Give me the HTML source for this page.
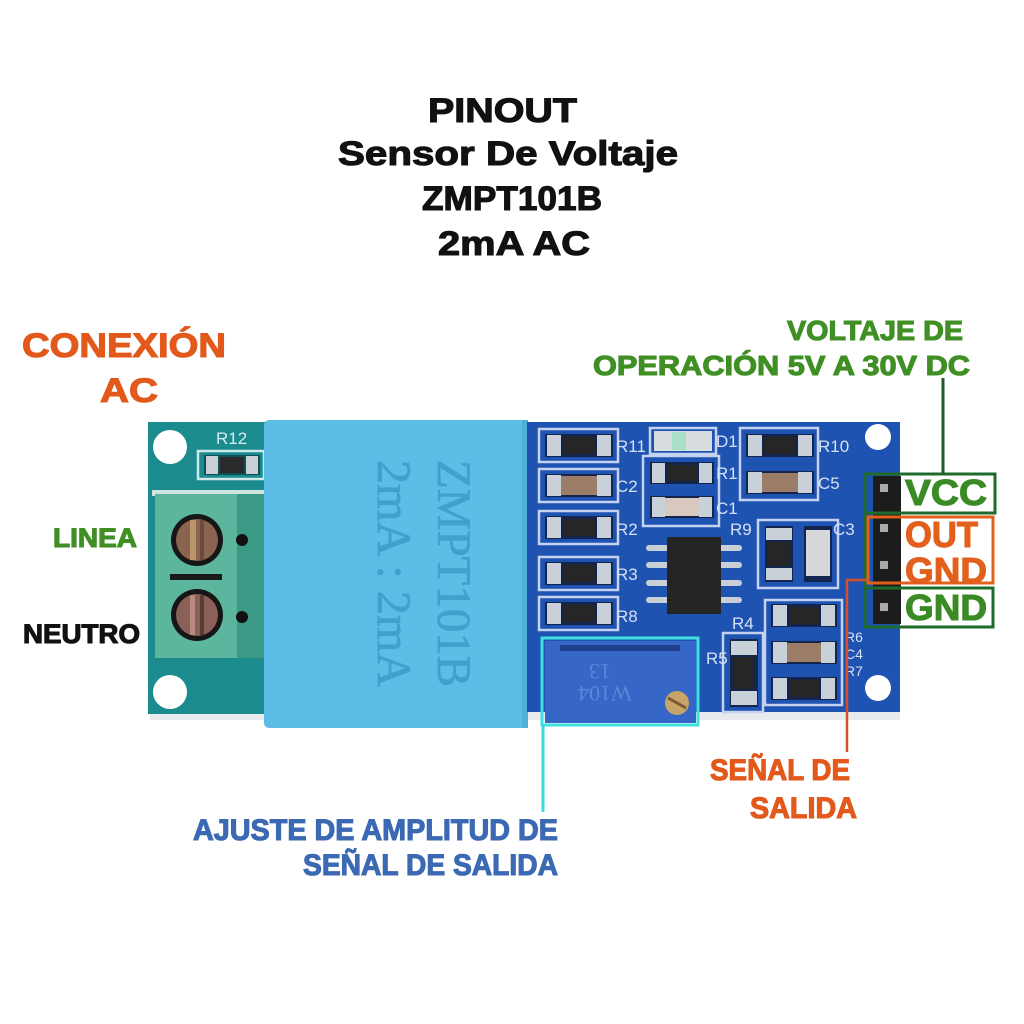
<!DOCTYPE html>
<html><head><meta charset="utf-8"><style>
html,body{margin:0;padding:0;background:#fff;}
svg{display:block;}
.b{font-family:"Liberation Sans",sans-serif;font-weight:bold;stroke-width:1.1px;paint-order:stroke;}
.s{font-family:"Liberation Sans",sans-serif;fill:#d6e0f3;font-size:17px;}
</style></head><body>
<svg width="1024" height="1024" viewBox="0 0 1024 1024" xmlns="http://www.w3.org/2000/svg">
<rect width="1024" height="1024" fill="#fff"/>

<!-- Title -->
<g class="b" fill="#111" stroke="#111" font-size="34">
<text x="428" y="122" textLength="149" lengthAdjust="spacingAndGlyphs">PINOUT</text>
<text x="338" y="165" textLength="340" lengthAdjust="spacingAndGlyphs">Sensor De Voltaje</text>
<text x="422" y="210" textLength="180" lengthAdjust="spacingAndGlyphs">ZMPT101B</text>
<text x="438" y="255" textLength="152" lengthAdjust="spacingAndGlyphs">2mA AC</text>
</g>

<!-- Left labels -->
<g class="b">
<text x="22" y="357" font-size="34" fill="#e2591b" stroke="#e2591b" textLength="204" lengthAdjust="spacingAndGlyphs">CONEXIÓN</text>
<text x="100" y="402" font-size="34" fill="#e2591b" stroke="#e2591b" textLength="58" lengthAdjust="spacingAndGlyphs">AC</text>
<text x="53" y="547" font-size="27" fill="#3f8f25" stroke="#3f8f25" textLength="84" lengthAdjust="spacingAndGlyphs">LINEA</text>
<text x="23" y="643" font-size="27" fill="#111" stroke="#111" textLength="117" lengthAdjust="spacingAndGlyphs">NEUTRO</text>
<text x="787" y="340" font-size="28" fill="#3f8f25" stroke="#3f8f25" textLength="176" lengthAdjust="spacingAndGlyphs">VOLTAJE DE</text>
<text x="593" y="375" font-size="28" fill="#3f8f25" stroke="#3f8f25" textLength="377" lengthAdjust="spacingAndGlyphs">OPERACIÓN 5V A 30V DC</text>
<text x="710" y="780" font-size="30" fill="#e2591b" stroke="#e2591b" textLength="140" lengthAdjust="spacingAndGlyphs">SEÑAL DE</text>
<text x="750" y="818" font-size="30" fill="#e2591b" stroke="#e2591b" textLength="107" lengthAdjust="spacingAndGlyphs">SALIDA</text>
<text x="193" y="840" font-size="30" fill="#3b69b3" stroke="#3b69b3" textLength="365" lengthAdjust="spacingAndGlyphs">AJUSTE DE AMPLITUD DE</text>
<text x="303" y="875" font-size="30" fill="#3b69b3" stroke="#3b69b3" textLength="255" lengthAdjust="spacingAndGlyphs">SEÑAL DE SALIDA</text>
</g>

<!-- shadow -->
<rect x="150" y="712" width="750" height="8" fill="#d8dde2" opacity="0.6"/>

<!-- Left teal PCB -->
<rect x="148" y="422" width="122" height="292" fill="#1b8b8e"/>
<circle cx="170" cy="447" r="17" fill="#fff"/>
<circle cx="170" cy="692" r="17" fill="#fff"/>
<text class="s" x="216" y="444" style="fill:#d8eef0" font-size="18">R12</text>
<rect x="198" y="451" width="66" height="28" fill="none" stroke="#cfe8ea" stroke-width="2.5"/>
<rect x="204" y="455" width="56" height="20" fill="#0e4f58"/>
<rect x="206" y="456" width="12" height="18" fill="#c8d0d4"/>
<rect x="246" y="456" width="12" height="18" fill="#c8d0d4"/>
<rect x="220" y="457" width="24" height="16" fill="#2a2a2a"/>
<!-- terminal block -->
<rect x="152" y="490" width="114" height="6" fill="#cfe6e0"/>
<rect x="155" y="494" width="82" height="164" fill="#5cb69e"/>
<rect x="237" y="494" width="28" height="164" fill="#3a9a86"/>
<circle cx="197" cy="540" r="26" fill="#161616"/>
<circle cx="197" cy="540" r="21" fill="#8a6450"/>
<rect x="190" y="520" width="6" height="40" fill="#b8956a"/>
<rect x="200" y="520" width="4" height="40" fill="#6a4a38"/>
<circle cx="197" cy="615" r="26" fill="#161616"/>
<circle cx="197" cy="615" r="21" fill="#8a6058"/>
<rect x="190" y="595" width="5" height="40" fill="#b88a80"/>
<rect x="200" y="595" width="4" height="40" fill="#5a3c36"/>
<rect x="170" y="574" width="52" height="6" fill="#1a1a1a"/>
<circle cx="242" cy="540" r="6" fill="#111"/>
<circle cx="242" cy="617" r="6" fill="#111"/>

<!-- Transformer -->
<rect x="264" y="420" width="264" height="308" rx="5" fill="#5cbde6"/>
<rect x="522" y="420" width="6" height="308" fill="#4fb0da"/>
<g font-family="'Liberation Serif',serif" fill="#42a0cf" stroke="#42a0cf" stroke-width="0.8">
<text transform="translate(438,460) rotate(90)" font-size="48" textLength="227" lengthAdjust="spacingAndGlyphs">ZMPT101B</text>
<text transform="translate(378,460) rotate(90)" font-size="48" textLength="227" lengthAdjust="spacingAndGlyphs">2mA : 2mA</text>
</g>

<!-- Right blue PCB -->
<rect x="527" y="422" width="373" height="290" fill="#1f53b2"/>
<circle cx="878" cy="437" r="13" fill="#fff"/>
<circle cx="878" cy="688" r="13" fill="#fff"/>

<g fill="none" stroke="#c3d2ee" stroke-width="2.5">
<rect x="539" y="429" width="79" height="33"/>
<rect x="539" y="469" width="79" height="33"/>
<rect x="539" y="511" width="79" height="33"/>
<rect x="539" y="557" width="79" height="33"/>
<rect x="539" y="597" width="79" height="33"/>
<rect x="650" y="428" width="66" height="26"/>
<rect x="643" y="456" width="76" height="70"/>
<rect x="740" y="428" width="78" height="72"/>
<rect x="758" y="520" width="80" height="68"/>
<rect x="765" y="600" width="77" height="105"/>
<rect x="723" y="633" width="40" height="79"/>
</g>

<g>
<rect x="545" y="434" width="68" height="23" fill="#14254d"/><rect x="547" y="435" width="14" height="21" fill="#c9d1d8"/><rect x="597" y="435" width="14" height="21" fill="#c9d1d8"/><rect x="563" y="437" width="32" height="17" fill="#262626"/>
<rect x="545" y="474" width="68" height="23" fill="#14254d"/><rect x="547" y="475" width="14" height="21" fill="#c9d1d8"/><rect x="597" y="475" width="14" height="21" fill="#c9d1d8"/><rect x="561" y="476" width="36" height="19" fill="#9c7e68"/>
<rect x="545" y="516" width="68" height="23" fill="#14254d"/><rect x="547" y="517" width="14" height="21" fill="#c9d1d8"/><rect x="597" y="517" width="14" height="21" fill="#c9d1d8"/><rect x="563" y="519" width="32" height="17" fill="#262626"/>
<rect x="545" y="562" width="68" height="23" fill="#14254d"/><rect x="547" y="563" width="14" height="21" fill="#c9d1d8"/><rect x="597" y="563" width="14" height="21" fill="#c9d1d8"/><rect x="563" y="565" width="32" height="17" fill="#262626"/>
<rect x="545" y="602" width="68" height="23" fill="#14254d"/><rect x="547" y="603" width="14" height="21" fill="#c9d1d8"/><rect x="597" y="603" width="14" height="21" fill="#c9d1d8"/><rect x="563" y="605" width="32" height="17" fill="#262626"/>
<rect x="654" y="431" width="58" height="20" fill="#d8dde0"/><rect x="672" y="432" width="14" height="18" fill="#a8e0c8"/>
<rect x="650" y="462" width="64" height="22" fill="#14254d"/><rect x="652" y="463" width="13" height="20" fill="#c9d1d8"/><rect x="699" y="463" width="13" height="20" fill="#c9d1d8"/><rect x="667" y="465" width="30" height="16" fill="#262626"/>
<rect x="650" y="496" width="64" height="22" fill="#14254d"/><rect x="652" y="497" width="13" height="20" fill="#c9d1d8"/><rect x="699" y="497" width="13" height="20" fill="#c9d1d8"/><rect x="665" y="498" width="34" height="18" fill="#d8c8c0"/>
<rect x="746" y="434" width="68" height="23" fill="#14254d"/><rect x="748" y="435" width="14" height="21" fill="#c9d1d8"/><rect x="798" y="435" width="14" height="21" fill="#c9d1d8"/><rect x="764" y="437" width="32" height="17" fill="#262626"/>
<rect x="746" y="471" width="68" height="23" fill="#14254d"/><rect x="748" y="472" width="14" height="21" fill="#c9d1d8"/><rect x="798" y="472" width="14" height="21" fill="#c9d1d8"/><rect x="762" y="473" width="36" height="19" fill="#9c7e68"/>
<rect x="765" y="526" width="28" height="56" fill="#14254d"/><rect x="766" y="528" width="26" height="12" fill="#c9d1d8"/><rect x="766" y="568" width="26" height="12" fill="#c9d1d8"/><rect x="768" y="542" width="22" height="24" fill="#262626"/>
<rect x="804" y="526" width="28" height="56" fill="#14254d"/><rect x="806" y="530" width="24" height="46" fill="#d6d8da"/>
<g fill="#c9cfd6">
<rect x="646" y="545" width="24" height="6" rx="3"/><rect x="646" y="562" width="24" height="6" rx="3"/><rect x="646" y="580" width="24" height="6" rx="3"/><rect x="646" y="597" width="24" height="6" rx="3"/>
<rect x="718" y="545" width="24" height="6" rx="3"/><rect x="718" y="562" width="24" height="6" rx="3"/><rect x="718" y="580" width="24" height="6" rx="3"/><rect x="718" y="597" width="24" height="6" rx="3"/>
</g>
<rect x="667" y="537" width="54" height="77" fill="#242424"/>
<rect x="771" y="604" width="66" height="23" fill="#14254d"/><rect x="773" y="605" width="14" height="21" fill="#c9d1d8"/><rect x="821" y="605" width="14" height="21" fill="#c9d1d8"/><rect x="789" y="607" width="30" height="17" fill="#262626"/>
<rect x="771" y="641" width="66" height="23" fill="#14254d"/><rect x="773" y="642" width="14" height="21" fill="#c9d1d8"/><rect x="821" y="642" width="14" height="21" fill="#c9d1d8"/><rect x="787" y="643" width="34" height="19" fill="#9c7e68"/>
<rect x="771" y="677" width="66" height="23" fill="#14254d"/><rect x="773" y="678" width="14" height="21" fill="#c9d1d8"/><rect x="821" y="678" width="14" height="21" fill="#c9d1d8"/><rect x="789" y="680" width="30" height="17" fill="#262626"/>
<rect x="730" y="639" width="28" height="68" fill="#14254d"/><rect x="731" y="641" width="26" height="14" fill="#c9d1d8"/><rect x="731" y="691" width="26" height="14" fill="#c9d1d8"/><rect x="734" y="657" width="20" height="32" fill="#262626"/>
</g>

<text class="s" x="616" y="452">R11</text>
<text class="s" x="616" y="492">C2</text>
<text class="s" x="616" y="535">R2</text>
<text class="s" x="616" y="580">R3</text>
<text class="s" x="616" y="622">R8</text>
<text class="s" x="716" y="447">D1</text>
<text class="s" x="716" y="479">R1</text>
<text class="s" x="716" y="514">C1</text>
<text class="s" x="818" y="452">R10</text>
<text class="s" x="818" y="489">C5</text>
<text class="s" x="730" y="535">R9</text>
<text class="s" x="833" y="535">C3</text>
<text class="s" x="732" y="629">R4</text>
<text class="s" x="706" y="664">R5</text>
<text class="s" x="845" y="642" style="font-size:14px">R6</text>
<text class="s" x="845" y="659" style="font-size:14px">C4</text>
<text class="s" x="845" y="676" style="font-size:14px">R7</text>

<!-- Potentiometer -->
<rect x="545" y="641" width="151" height="82" fill="#3566c8"/>
<rect x="560" y="645" width="120" height="6" fill="#1d3f8c"/>
<g font-family="'Liberation Serif',serif" fill="#5b86d8" font-size="22">
<text transform="translate(600,664) rotate(180)" text-anchor="middle">13</text>
<text transform="translate(605,686) rotate(180)" text-anchor="middle">W104</text>
</g>
<circle cx="677" cy="703" r="12" fill="#c9a468"/>
<line x1="668" y1="698" x2="686" y2="708" stroke="#7a5a30" stroke-width="3"/>
<rect x="542" y="638" width="156" height="87" fill="none" stroke="#3fe0e0" stroke-width="3"/>
<line x1="543" y1="725" x2="543" y2="812" stroke="#3fd8d8" stroke-width="3"/>

<!-- Header pins -->
<rect x="900" y="472" width="100" height="160" fill="#fff"/>
<rect x="873" y="476" width="28" height="148" fill="#1c1c1c"/>
<g fill="#a8aaac">
<rect x="880" y="484" width="8" height="8"/>
<rect x="880" y="524" width="8" height="8"/>
<rect x="880" y="561" width="8" height="8"/>
<rect x="880" y="603" width="8" height="8"/>
</g>
<rect x="865" y="474" width="130" height="39" fill="none" stroke="#1e6b2c" stroke-width="3"/>
<rect x="868" y="517" width="125" height="66" fill="none" stroke="#e0601c" stroke-width="3"/>
<rect x="865" y="588" width="128" height="39" fill="none" stroke="#1e6b2c" stroke-width="3"/>
<line x1="865" y1="474" x2="865" y2="627" stroke="#1e6b2c" stroke-width="3"/>
<g class="b" font-size="36">
<text x="905" y="505" fill="#3a8a25" stroke="#3a8a25" textLength="82" lengthAdjust="spacingAndGlyphs">VCC</text>
<text x="905" y="547" fill="#e2601c" stroke="#e2601c" textLength="73" lengthAdjust="spacingAndGlyphs">OUT</text>
<text x="905" y="583" fill="#e2601c" stroke="#e2601c" textLength="82" lengthAdjust="spacingAndGlyphs">GND</text>
<text x="905" y="620" fill="#3a8a25" stroke="#3a8a25" textLength="82" lengthAdjust="spacingAndGlyphs">GND</text>
</g>

<!-- connectors -->
<line x1="943" y1="378" x2="943" y2="474" stroke="#1e5b2a" stroke-width="3"/>
<polyline points="868,580 847,580 847,752" fill="none" stroke="#d4502a" stroke-width="2.5"/>
</svg>
</body></html>
